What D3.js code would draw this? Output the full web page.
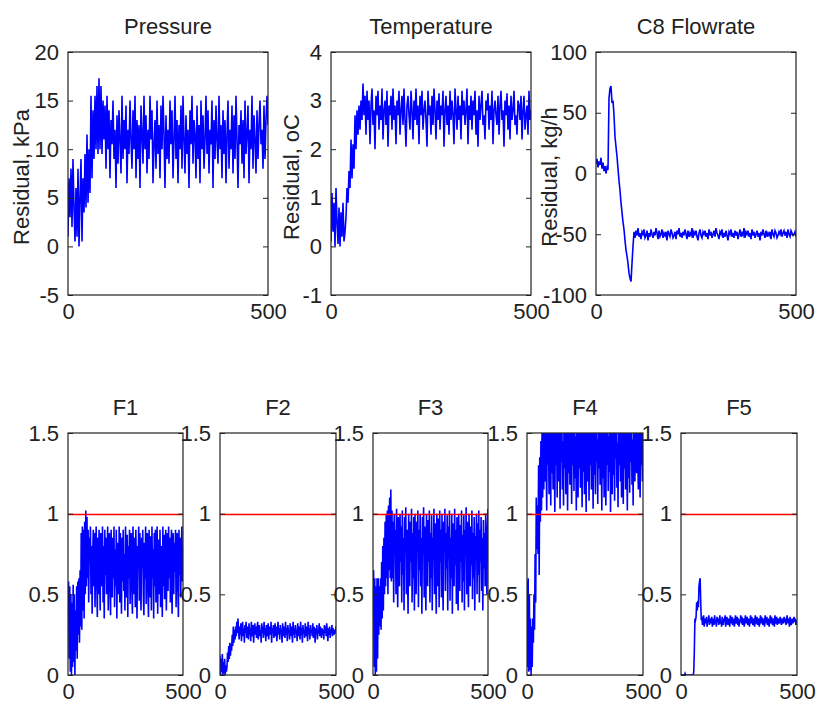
<!DOCTYPE html>
<html>
<head>
<meta charset="utf-8">
<script src="https://cdn.jsdelivr.net/npm/d3@7"></script>
<style>
  body { margin: 0; background: #fff; }
  svg text { font-family: "Liberation Sans", Arial, Helvetica, sans-serif; font-size: 22px; fill: #222; }
</style>
</head>
<body>
<svg id="fig" width="817" height="704"></svg>
<script>
// Residual traces, 0..500 samples, one array per monitored variable
const pressure = [
  1,7,3,8,2,9,4,0.5,6,1,8,0,5,9,0.5,7,
  3.5,9.5,4,11.5,4.5,10,5.5,15.5,7,14,9,15.5,10,16.5,9.5,17.3,
  10,16.5,9.5,15,11,14.5,8,15.5,10,14,
  7,13,10.5,15,9,12,6,13.5,8.5,14,
  11,7.5,15.5,9,13,10,14.5,6.5,12,9.5,
  15,11,8,14,10,15.5,7,13,9,12.5,
  6,14.5,11.5,8.5,15.5,10,13.5,7.5,12,9,
  15.5,11,14,6.5,10.5,13,8,15,9.5,12.5,
  7,14.5,10,15.5,11.5,6,13.5,9,12,8.5,
  15,10.5,14,7,11,15.5,9,13,6.5,12.5,
  10,14.5,8,15.5,11,7.5,13.5,9.5,12,6,
  14,10.5,15.5,8.5,13,11.5,7,14.5,9,12.5,
  6.5,15,10,13.5,8,11,15.5,9.5,14,7.5,
  12,10.5,15,6,13,9,14.5,11,8.5,15.5,
  10,12.5,7,14,9.5,13,6.5,11.5,15,8,
  12,10,14.5,7.5,13.5,9,15.5,11,6,12.5,
  10.5,14,8.5,13,7,15,9.5,11.5,14.5,6.5,
  12,10,15.5,8,13.5,11,7.5,14,9,12.5,
  15,10.5,12,8,14.5,9,13,15.5,12.5
];
const temperature = [
  0.1,1.1,0.3,0.9,0,1.2,0.5,0.05,0.8,0,0.7,0.2,0.9,0.1,
  0.3,0.6,1.2,0.9,1.55,1.2,2.2,1.4,2.1,1.6,2.7,2,2.8,2.3,2.9,2.4,3,2.6,3.35,
  2.7,3.1,2.3,3.2,2.6,3,2.1,2.9,3.25,2.5,
  2.8,2,3.1,2.7,3.2,2.4,2.9,2.6,3.25,2.2,
  2.8,3,2.5,3.2,2.05,2.9,2.7,3.1,2.4,3.25,
  2.6,2.9,2.1,3,2.7,3.2,2.3,2.8,3.1,2.5,
  3.25,2.6,2.05,2.9,3.1,2.7,2.4,3.2,2.8,2.2,
  3,2.6,3.25,2.5,2.9,2.1,3.1,2.7,3.2,2.4,
  2.8,3,2.6,2.05,3.2,2.7,2.9,2.3,3.1,2.5,
  3.25,2.8,2.2,3,2.6,3.15,2.4,2.9,2.7,3.2,
  2.05,2.8,3.1,2.5,2.9,2.3,3.2,2.6,3,2.7,
  2.1,3.25,2.8,2.4,3.1,2.6,2.9,2.2,3.2,2.7,
  3,2.5,2.8,3.25,2.1,2.9,2.6,3.1,2.4,3,
  2.7,3.2,2.3,2.8,2.05,3.1,2.6,2.9,3.2,2.5,
  2.7,2.2,3,2.8,3.15,2.4,2.9,2.6,3.2,2.1,
  2.8,3,2.7,2.5,3.1,2.3,2.9,3.2,2.6,2.8,
  2.05,3,2.7,3.15,2.4,2.9,2.2,3.1,2.6,2.8,
  3.2,2.5,2.7,2.3,3,2.9,2.6,3.1,2.2,2.8,
  3.1,2.4,2.7,2.9,2.3,3.2,2.6,2.8
];
const c8Flowrate = [
  8,12,5,10,7,13,4,9,2,6,0,5,3,
  62,70,72,58,60,48,30,22,14,4,-6,-14,-24,-32,-40,-46,-55,-63,-68,-74,-82,-86,-89,-74,-60,-48,
  -53,-47,-51,-45,-52,-49,-54,-48,-50,-46,
  -53,-51,-47,-55,-49,-52,-46,-50,-53,-48,
  -51,-45,-49,-54,-47,-52,-50,-46,-53,-49,
  -51,-48,-55,-47,-50,-52,-46,-49,-53,-51,
  -48,-54,-47,-50,-45,-52,-49,-53,-48,-51,
  -46,-50,-54,-47,-52,-49,-51,-45,-53,-48,
  -50,-47,-52,-55,-49,-46,-51,-53,-48,-50,
  -47,-52,-49,-54,-46,-51,-48,-53,-50,-47,
  -52,-45,-49,-51,-54,-48,-50,-46,-53,-49,
  -52,-47,-51,-55,-48,-50,-46,-52,-49,-53,
  -47,-51,-48,-54,-50,-46,-52,-49,-51,-45,
  -53,-48,-50,-47,-52,-49,-54,-46,-51,-48,
  -53,-50,-47,-52,-49,-55,-48,-51,-46,-50,
  -53,-47,-52,-49,-51,-48,-54,-46,-50,-52,
  -47,-49,-53,-51,-48,-50,-46,-52,-49,-47,
  -51,-48,-53,-46,-50,-52,-47,-49,-51,-50,
  -48,-52
];
// Normalised fault indices F1..F5 (threshold at 1)
const f1 = [
  0.45,0.58,0.1,0.55,0.02,0.5,0,0.45,0.05,0.56,0.08,0.5,0,0.4,0.15,0.55,0.1,0.58,
  0.25,0.6,0.2,0.65,0.3,0.88,0.28,0.92,0.4,0.9,0.35,0.95,0.5,1.02,0.55,0.98,0.6,
  0.9,0.45,0.85,0.7,0.92,0.5,0.8,0.38,0.75,0.9,
  0.55,0.88,0.42,0.7,0.92,0.6,0.36,0.85,0.5,0.9,
  0.65,0.4,0.88,0.72,0.55,0.92,0.45,0.8,0.35,0.9,
  0.62,0.85,0.5,0.75,0.92,0.4,0.68,0.88,0.55,0.37,
  0.9,0.7,0.48,0.85,0.6,0.92,0.42,0.78,0.55,0.9,
  0.35,0.82,0.65,0.5,0.92,0.45,0.88,0.7,0.38,0.85,
  0.58,0.9,0.52,0.75,0.4,0.92,0.66,0.48,0.87,0.36,
  0.8,0.6,0.9,0.44,0.72,0.88,0.54,0.38,0.92,0.68,
  0.5,0.85,0.42,0.9,0.62,0.35,0.8,0.7,0.92,0.46,
  0.88,0.56,0.4,0.85,0.66,0.9,0.5,0.37,0.82,0.6,
  0.92,0.44,0.75,0.88,0.52,0.36,0.9,0.68,0.48,0.86,
  0.4,0.92,0.6,0.78,0.35,0.88,0.55,0.9,0.45,0.7,
  0.92,0.38,0.84,0.62,0.5,0.9,0.42,0.8,0.66,0.36,
  0.92,0.55,0.87,0.47,0.74,0.9,0.4,0.65,0.88,0.52,
  0.92,0.6,0.85,0.45,0.78,0.9,0.38,0.7,0.88,0.5,
  0.82,0.64,0.9,0.42,0.76,0.88,0.55,0.36,0.9,0.62,
  0.85,0.48,0.75,0.92,0.58,0.8
];
const f2 = [
  0.12,0,0.1,0.02,0.13,0,0.08,0.01,0.1,0,0.06,0.02,
  0.05,0.14,0.08,0.18,0.1,0.2,0.12,0.19,
  0.15,0.25,0.18,0.3,0.2,0.28,0.22,
  0.3,0.24,0.33,0.26,0.35,0.27,
  0.22,0.3,0.25,0.32,0.21,0.28,0.33,0.24,0.29,0.2,
  0.31,0.26,0.33,0.23,0.28,0.3,0.22,0.32,0.25,0.29,
  0.21,0.33,0.27,0.24,0.31,0.2,0.28,0.32,0.25,0.3,
  0.23,0.29,0.33,0.22,0.27,0.31,0.24,0.28,0.2,0.32,
  0.26,0.3,0.23,0.33,0.25,0.29,0.21,0.31,0.27,0.24,
  0.32,0.22,0.28,0.3,0.25,0.33,0.2,0.29,0.26,0.31,
  0.23,0.28,0.32,0.24,0.3,0.21,0.27,0.33,0.25,0.29,
  0.22,0.31,0.26,0.28,0.2,0.32,0.24,0.3,0.27,0.23,
  0.33,0.25,0.29,0.21,0.31,0.26,0.28,0.22,0.32,0.24,
  0.3,0.27,0.2,0.33,0.25,0.29,0.23,0.31,0.26,0.28,
  0.21,0.32,0.24,0.3,0.27,0.22,0.33,0.25,0.29,0.2,
  0.31,0.26,0.28,0.23,0.32,0.24,0.3,0.27,0.21,0.33,
  0.25,0.29,0.22,0.31,0.26,0.28,0.24,0.32,0.23,0.3,
  0.27,0.2,0.29,0.25,0.31,0.22,0.28,0.26,0.32,0.24,
  0.3,0.27,0.23,0.29,0.25,0.28,0.22,0.31,0.26,0.3,
  0.24,0.32,0.27,0.21,0.29,0.25,0.3,0.23,0.28,0.26,
  0.31,0.24,0.29,0.27,0.25,0.28,0.26,0.3
];
const f3 = [
  0.5,0.65,0.05,0.6,0,0.55,0.02,0.6,0.1,
  0.6,0.25,0.55,0.3,0.6,0.28,
  0.7,0.35,0.8,0.4,0.85,0.5,
  0.95,0.55,1,0.6,1.02,0.5,
  1.05,0.65,1.1,0.6,1.15,0.58,
  1.02,0.6,0.95,0.45,1,0.75,0.9,0.5,1.03,0.68,
  0.42,0.98,0.8,0.55,1,0.7,0.92,0.45,1.02,0.62,
  0.85,0.4,0.98,0.75,1.04,0.5,0.9,0.66,0.38,1,
  0.8,0.55,0.95,0.7,1.03,0.45,0.88,0.6,0.98,0.4,
  1,0.72,0.5,0.95,0.82,1.02,0.42,0.9,0.65,1,
  0.55,0.85,0.38,0.98,0.75,1.04,0.48,0.92,0.62,0.4,
  1,0.78,0.55,0.96,0.7,1.02,0.45,0.88,0.6,0.99,
  0.4,0.85,0.72,1.03,0.5,0.94,0.65,0.38,1,0.8,
  0.55,0.97,0.42,1.02,0.7,0.9,0.48,1,0.62,0.4,
  0.95,0.78,1.03,0.52,0.88,0.66,0.99,0.4,0.92,0.72,
  1.02,0.46,0.85,0.6,1,0.38,0.94,0.75,0.55,1.03,
  0.68,0.9,0.44,0.98,0.62,0.4,1,0.8,0.52,0.93,
  0.7,1.02,0.45,0.87,0.58,0.99,0.4,0.9,0.74,1.04,
  0.5,0.95,0.64,0.42,1,0.78,0.55,0.92,0.68,1.02,
  0.47,0.88,0.6,0.98,0.4,0.86,0.73,1,0.5,0.94,
  0.62,1.02,0.45,0.9,0.7,0.98,0.52,0.85,0.4,0.96,
  0.66,0.88,0.55,1,0.75,0.5,0.9,1.03
];
const f4 = [
  0.58,0.05,0.6,0.02,0.5,0.03,0.35,0,0.3,0.05,0.35,0.2,0.5,0.28,0.75,0.45,
  1.1,0.78,1.05,0.75,1.3,0.62,1.35,0.95,1.45,1.02,1.55,1.1,1.6,1.15,1.65,
  1.2,1.65,1.35,1.02,1.7,1.3,1.55,1.12,1.6,1.4,
  1.05,1.75,1.25,1.5,1.15,1.62,1.38,1.01,1.68,1.3,
  1.55,1.1,1.7,1.42,1.2,1.6,1.03,1.52,1.32,1.66,
  1.15,1.45,1.05,1.72,1.28,1.58,1.12,1.64,1.36,1.02,
  1.7,1.25,1.5,1.18,1.6,1.4,1.06,1.68,1.3,1.56,
  1.14,1.74,1.22,1.48,1.02,1.62,1.35,1.1,1.7,1.28,
  1.54,1.16,1.65,1.42,1.04,1.6,1.26,1.72,1.12,1.5,
  1.34,1.01,1.66,1.2,1.58,1.4,1.08,1.7,1.3,1.52,
  1.15,1.63,1.38,1.03,1.68,1.24,1.55,1.12,1.74,1.32,
  1.46,1.06,1.6,1.28,1.7,1.18,1.5,1.4,1.02,1.65,
  1.22,1.57,1.1,1.69,1.36,1.05,1.62,1.3,1.75,1.14,
  1.48,1.26,1.66,1.01,1.54,1.38,1.12,1.7,1.24,1.6,
  1.08,1.52,1.34,1.68,1.16,1.44,1.04,1.64,1.3,1.72,
  1.2,1.56,1.1,1.62,1.4,1.06,1.7,1.28,1.5,1.15,
  1.66,1.35,1.02,1.6,1.22,1.74,1.13,1.55,1.32,1.68,
  1.18,1.46,1.05,1.63,1.3,1.2,1.58,1.45,1.25,1.6,
  1.35,1.15,1.62,1.4,1.1,1.55,1.3,1.5,1.2,1.58
];
const f5 = [
  0,0,0,0,0,0,0,0.01,0,0,0,0,0,0,0,0,0,0,0,0,0,0,
  0.02,0.15,0.35,0.34,0.36,0.45,0.4,0.46,0.42,0.55,0.58,0.6,0.45,0.34,
  0.36,0.31,0.34,0.37,0.3,0.33,0.35,0.32,0.36,0.3,
  0.34,0.33,0.37,0.31,0.35,0.32,0.34,0.36,0.3,0.33,
  0.35,0.31,0.37,0.32,0.34,0.3,0.36,0.33,0.35,0.31,
  0.34,0.37,0.32,0.33,0.3,0.36,0.34,0.31,0.35,0.33,
  0.37,0.3,0.32,0.36,0.34,0.31,0.35,0.33,0.3,0.37,
  0.32,0.34,0.36,0.31,0.33,0.35,0.3,0.34,0.37,0.32,
  0.33,0.36,0.31,0.35,0.3,0.34,0.33,0.37,0.32,0.36,
  0.31,0.34,0.35,0.3,0.33,0.37,0.32,0.34,0.36,0.31,
  0.35,0.33,0.3,0.34,0.37,0.32,0.36,0.33,0.31,0.35,
  0.34,0.3,0.37,0.32,0.33,0.36,0.31,0.34,0.35,0.3,
  0.33,0.37,0.32,0.36,0.34,0.31,0.35,0.33,0.3,0.37,
  0.32,0.34,0.36,0.31,0.33,0.35,0.3,0.34,0.37,0.32,
  0.36,0.33,0.31,0.35,0.34,0.3,0.37,0.32,0.33,0.36,
  0.31,0.34,0.35,0.32,0.33,0.36,0.34,0.31,0.35,0.33,
  0.34,0.32,0.36,0.33,0.35,0.31,0.34,0.37,0.32,0.35,
  0.33,0.3,0.36,0.34,0.31,0.33,0.35,0.32,0.34,0.36,
  0.33,0.35,0.31,0.34,0.33
];

// Axis ticks
const sampleTicks = [0, 500];
const pressureTicks = [-5, 0, 5, 10, 15, 20];
const temperatureTicks = [-1, 0, 1, 2, 3, 4];
const flowTicks = [-100, -50, 0, 50, 100];
const faultTicks = [0, 0.5, 1, 1.5];
const faultThreshold = 1;

// Subplot layout: [left, top, right, bottom] in pixels
const panels = [
  { title: "Pressure",    ylabel: "Residual, kPa",  values: pressure,    ticks: pressureTicks,    box: [68, 52, 268, 295],  ylabelX: 28.5 },
  { title: "Temperature", ylabel: "Residual, oC",   values: temperature, ticks: temperatureTicks, box: [331, 52, 531, 295], ylabelX: 298.5 },
  { title: "C8 Flowrate", ylabel: "Residual, kg/h", values: c8Flowrate,  ticks: flowTicks,        box: [596, 52, 796, 295], ylabelX: 557 },
  { title: "F1", values: f1, ticks: faultTicks, box: [68, 433, 183, 675],  threshold: faultThreshold },
  { title: "F2", values: f2, ticks: faultTicks, box: [220, 433, 336, 675], threshold: faultThreshold },
  { title: "F3", values: f3, ticks: faultTicks, box: [373, 433, 488, 675], threshold: faultThreshold },
  { title: "F4", values: f4, ticks: faultTicks, box: [527, 433, 643, 675], threshold: faultThreshold },
  { title: "F5", values: f5, ticks: faultTicks, box: [681, 433, 797, 675], threshold: faultThreshold }
];

const svg = d3.select("#fig");
const fmt = d => String(d);

panels.forEach((p, k) => {
  const [x0, y0, x1, y1] = p.box;
  const x = d3.scaleLinear().domain([0, 500]).range([x0, x1]);
  const y = d3.scaleLinear().domain(d3.extent(p.ticks)).range([y1, y0]);
  const n = p.values.length;
  const t = i => i * 500 / (n - 1);

  const clipId = "clip" + k;
  svg.append("clipPath").attr("id", clipId)
    .append("rect").attr("x", x0).attr("y", y0).attr("width", x1 - x0).attr("height", y1 - y0);

  const g = svg.append("g");

  g.append("path")
    .datum(p.values)
    .attr("clip-path", `url(#${clipId})`)
    .attr("fill", "none")
    .attr("stroke", "#0000ff")
    .attr("stroke-width", 1.6)
    .attr("d", d3.line().x((d, i) => x(t(i))).y(d => y(d)));

  if (p.threshold !== undefined) {
    const ty = Math.round(y(p.threshold)) + 0.5;
    g.append("line")
      .attr("x1", x0).attr("x2", x1)
      .attr("y1", ty).attr("y2", ty)
      .attr("stroke", "#ff0000").attr("stroke-width", 1.5);
  }

  // left axis with labels, ticks pointing inward
  g.append("g").attr("transform", `translate(${x0},0)`).attr("color", "#222")
    .call(d3.axisLeft(y).tickValues(p.ticks).tickFormat(fmt).tickSizeInner(-5).tickSizeOuter(0).tickPadding(9))
    .call(a => a.select(".domain").remove());
  // right axis, ticks only
  g.append("g").attr("transform", `translate(${x1},0)`).attr("color", "#222")
    .call(d3.axisRight(y).tickValues(p.ticks).tickFormat("").tickSizeInner(-5).tickSizeOuter(0))
    .call(a => a.select(".domain").remove());
  // bottom axis labels
  g.append("g").attr("transform", `translate(0,${y1})`).attr("color", "#222")
    .call(d3.axisBottom(x).tickValues(sampleTicks).tickFormat(fmt).tickSize(0).tickPadding(8.5))
    .call(a => a.select(".domain").remove());

  g.append("rect")
    .attr("x", x0).attr("y", y0).attr("width", x1 - x0).attr("height", y1 - y0)
    .attr("fill", "none").attr("stroke", "#222").attr("stroke-width", 1.2);

  g.append("text")
    .attr("x", (x0 + x1) / 2).attr("y", y0 - 18)
    .attr("text-anchor", "middle")
    .text(p.title);

  if (p.ylabel) {
    g.append("text")
      .attr("transform", `translate(${p.ylabelX},${(y0 + y1) / 2 + 3.5}) rotate(-90)`)
      .attr("text-anchor", "middle")
      .text(p.ylabel);
  }
});
</script>
</body>
</html>
